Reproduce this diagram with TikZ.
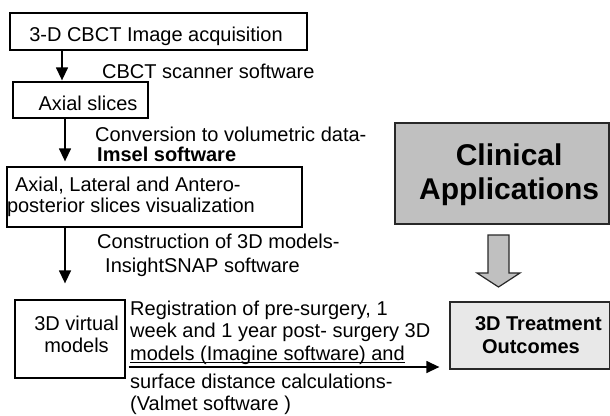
\documentclass[tikz,border=0pt]{standalone}
\usepackage{fontspec}
\setmainfont{Liberation Sans}
\usetikzlibrary{arrows.meta}
\definecolor{clin}{RGB}{192,192,192}
\definecolor{outc}{RGB}{232,232,232}
\definecolor{edge}{RGB}{40,40,40}
\newcommand\myul[1]{\setbox0\hbox{#1}\rlap{\rule[-2.8pt]{\wd0}{1.1pt}}\box0}
\begin{document}
\begin{tikzpicture}[x=1pt,y=-1pt,
  box/.style={draw=black, line width=1.3pt, inner sep=0pt, text height=15pt, text depth=5pt, font=\fontsize{20}{20}\selectfont},
  txt/.style={inner sep=0pt, anchor=base west, font=\fontsize{20}{22}\selectfont},
  arr/.style={line width=1.4pt, -{Triangle[width=12pt,length=13pt]}}]
\useasboundingbox (0,0) rectangle (610,415);

% boxes
\node[box, minimum width=297pt, minimum height=37pt] (b1) at (158.5,31.5)
  {\hspace*{-5pt}\raisebox{-5.5pt}{3-D CBCT Image acquisition}};
\node[box, minimum width=135pt, minimum height=36pt] (b2) at (80.5,100)
  {\hspace*{15pt}\raisebox{-5pt}{Axial slices}};
\node[box, minimum width=295pt, minimum height=60pt] (b3) at (154.5,197)
  {\makebox[295pt][l]{\raisebox{-10pt}{\begin{tabular}[b]{@{}l@{}}\hspace*{8pt}Axial, Lateral and Antero-\\posterior slices visualization\end{tabular}}}};
\node[box, minimum width=110pt, minimum height=78pt] (b4) at (70,339)
  {\hspace*{13pt}\raisebox{-8pt}{\fontsize{20}{22}\selectfont\begin{tabular}[b]{@{}c@{}}3D virtual\\models\end{tabular}}};
\node[box, draw=edge, fill=outc, minimum width=159.3pt, minimum height=67pt, font=\bfseries\fontsize{20}{23}\selectfont] (b5) at (529.65,335.5)
  {\makebox[159.3pt][l]{\hspace*{25pt}\raisebox{-12.5pt}{\begin{tabular}[b]{@{}l@{}}3D Treatment\\\hspace*{7pt}Outcomes\end{tabular}}}};
\node[box, draw=edge, line width=1.8pt, fill=clin, minimum width=214.3pt, minimum height=101pt, font=\bfseries\fontsize{30}{34}\selectfont] (b6) at (502.15,173.5)
  {\hspace*{14pt}\raisebox{-20.5pt}{\begin{tabular}[b]{@{}c@{}}Clinical\\Applications\end{tabular}}};

% free labels
\node[txt] (t1) at (102,78) {CBCT scanner software};
\node[txt] (t2) at (95,161) {\fontsize{20}{16}\selectfont\begin{tabular}[b]{@{}l@{}}Conversion to volumetric data-\\\hspace*{2pt}\textbf{Imsel software}\end{tabular}};
\node[txt] (t4) at (97,272) {\fontsize{20}{24}\selectfont\begin{tabular}[b]{@{}l@{}}Construction of 3D models-\\\hspace*{8pt}InsightSNAP software\end{tabular}};
\node[txt] (t6) at (130,360) {\fontsize{20}{22.5}\selectfont\begin{tabular}[b]{@{}l@{}}Registration of pre-surgery, 1\\week and 1 year post- surgery 3D\\\myul{models (Imagine software) and}\end{tabular}};
\node[txt] (t7) at (130,410) {\begin{tabular}[b]{@{}l@{}}surface distance calculations-\\(Valmet software )\end{tabular}};

% connectors
\coordinate (ax1) at (62,0);
\coordinate (ax2) at (65,0);
\coordinate (ay) at (0,367);
\draw[arr, shorten >=1pt] (b1.south -| ax1) -- (b2.north -| ax1);
\draw[arr, shorten >=5pt] (b2.south -| ax2) -- (b3.north -| ax2);
\draw[arr, shorten >=16pt] (b3.south -| ax2) -- (b4.north -| ax2);
\draw[arr, shorten <=3pt, shorten >=10pt] (b4.east |- ay) -- (b5.west |- ay);

% hollow block arrow from Clinical Applications to 3D Treatment Outcomes
\draw[draw=edge, line width=1.2pt, fill=clin, line join=miter]
  (488,235) -- (509,235) -- (509,273) -- (520,273) -- (498.5,287) -- (477,273) -- (488,273) -- cycle;
\end{tikzpicture}
\end{document}
